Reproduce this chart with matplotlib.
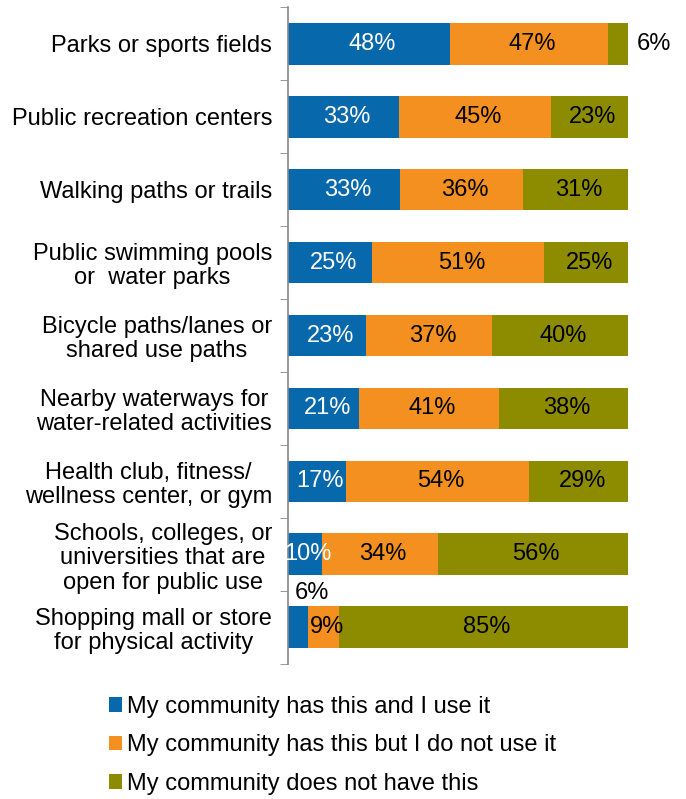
import matplotlib
matplotlib.use("Agg")
import matplotlib.pyplot as plt
from matplotlib.patches import Patch
import numpy as np

plt.rcParams['font.family'] = ['Liberation Sans', 'DejaVu Sans']

categories = [
    "Parks or sports fields",
    "Public recreation centers",
    "Walking paths or trails",
    "Public swimming pools\nor  water parks",
    "Bicycle paths/lanes or\nshared use paths",
    "Nearby waterways for\nwater-related activities",
    "Health club, fitness/\nwellness center, or gym",
    "Schools, colleges, or\nuniversities that are\nopen for public use",
    "Shopping mall or store\nfor physical activity",
]
has_use = [48, 33, 33, 25, 23, 21, 17, 10, 6]
has_not_use = [47, 45, 36, 51, 37, 41, 54, 34, 9]
not_have = [6, 23, 31, 25, 40, 38, 29, 56, 85]
series_names = [
    "My community has this and I use it",
    "My community has this but I do not use it",
    "My community does not have this",
]
colors = ["#0868AC", "#F39020", "#8D8B00"]
text_colors = ["white", "black", "black"]

fig = plt.figure(figsize=(6.86, 7.99), dpi=100)
ax = fig.add_axes([0.4198, 0.169, 0.4957, 0.8222])

data = np.array([has_use, has_not_use, not_have], dtype=float)
totals = data.sum(axis=0)
shares = data / totals * 100
n = len(categories)
y = np.arange(n)
left = np.zeros(n)
fs = 17
for i in range(3):
    ax.barh(y, shares[i], left=left, height=0.575, color=colors[i], edgecolor='none')
    for j in range(n):
        val = data[i, j]
        cx = left[j] + shares[i, j] / 2
        if i == 2 and j == 0:
            ax.text(left[j] + shares[i, j] + 2.6, y[j], f"{val:.0f}%", ha='left', va='center',
                    fontsize=fs, color='black')
        elif i == 0 and j == n - 1:
            ax.text(cx + 4, y[j] - 0.47, f"{val:.0f}%", ha='center', va='center',
                    fontsize=fs, color='black')
        else:
            ax.text(cx + 1, y[j], f"{val:.0f}%", ha='center', va='center',
                    fontsize=fs, color=text_colors[i])
    left += shares[i]

ax.set_xlim(0, 100)
ax.set_ylim(n - 0.5, -0.5)
ax.set_yticks(y)
ax.set_yticklabels(categories, fontsize=fs, multialignment='center', linespacing=1.14)
ax.set_yticks(np.arange(n + 1) - 0.5, minor=True)
ax.tick_params(axis='y', which='major', length=0, pad=11.5)
ax.tick_params(axis='y', which='minor', length=6, color='#888888', direction='out')
ax.set_xticks([])
for s in ['top', 'right', 'bottom']:
    ax.spines[s].set_visible(False)
ax.spines['left'].set_color('#888888')
ax.spines['left'].set_linewidth(1.2)

handles = [Patch(facecolor=c, edgecolor='none') for c in colors]
fig.legend(handles, series_names, loc='upper left', bbox_to_anchor=(0.145, 0.141),
           frameon=False, fontsize=fs, handlelength=0.55, handleheight=0.55,
           handletextpad=0.2, labelspacing=0.7, borderaxespad=0)

fig.savefig("out.png", dpi=100)
